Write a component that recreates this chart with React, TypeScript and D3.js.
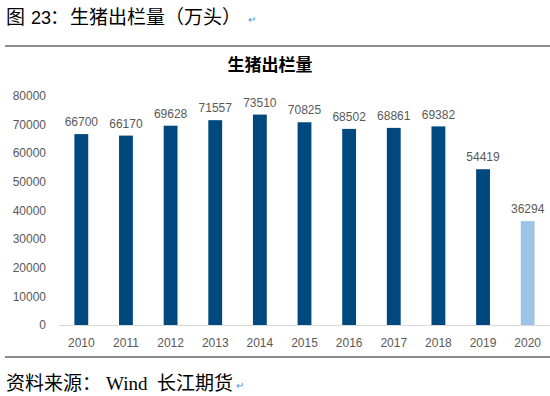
import React from "react";
import * as d3 from "d3";

const years = ["2010", "2011", "2012", "2013", "2014", "2015", "2016", "2017", "2018", "2019", "2020"];
const values = [66700, 66170, 69628, 71557, 73510, 70825, 68502, 68861, 69382, 54419, 36294];
const yTicks = [0, 10000, 20000, 30000, 40000, 50000, 60000, 70000, 80000];

const W = 550;
const H = 396;

export default function App() {
  const x = d3.scaleBand<string>().domain(years).range([59, 550]).paddingInner(0.69).paddingOuter(0.345);
  const y = d3.scaleLinear().domain([0, 80000]).range([325, 96]);
  const dark = "#00497E";
  const light = "#9DC3E6";
  const grey = "#595959";
  const numFont = "'Liberation Sans', Arial, sans-serif";
  const cjk = "'Noto Sans CJK SC', 'Liberation Sans', sans-serif";
  const serif = "'Liberation Serif', 'Times New Roman', serif";
  return (
    <svg width={W} height={H} style={{ position: "fixed", left: 0, top: 0, background: "#fff" }}>
      <rect x={0} y={0} width={W} height={H} fill="#fff" />
      {/* header */}
      <text y={24} fontSize={19} fill="#000" fontFamily={cjk}>
        <tspan x={6}>图</tspan>
        <tspan x={31} fontFamily={numFont} fontSize={18}>23</tspan>
        <tspan x={50}>：</tspan>
        <tspan x={70}>生猪出栏量（万头）</tspan>
      </text>
      <text x={248} y={23} fontSize={10} fill="#5b8fd6" fontFamily={numFont}>↵</text>
      <line x1={5} x2={550} y1={46} y2={46} stroke="#8c8c8c" strokeWidth={2} />
      {/* chart title */}
      <text x={270} y={71} textAnchor="middle" fontSize={17} fontWeight="bold" fill="#000" fontFamily={cjk}>
        生猪出栏量
      </text>
      {/* y axis labels */}
      {yTicks.map((t) => (
        <text key={t} x={46} y={y(t)} dy="0.35em" textAnchor="end" fontSize={12} fill={grey} fontFamily={numFont}>
          {t}
        </text>
      ))}
      {/* bars */}
      {years.map((yr, i) => (
        <rect
          key={yr}
          x={x(yr)}
          y={y(values[i])}
          width={x.bandwidth()}
          height={y(0) - y(values[i])}
          fill={i === years.length - 1 ? light : dark}
        />
      ))}
      {/* value labels */}
      {years.map((yr, i) => (
        <text
          key={"v" + yr}
          x={(x(yr) as number) + x.bandwidth() / 2}
          y={y(values[i]) - 12}
          dy="0.35em"
          textAnchor="middle"
          fontSize={12}
          fill={grey}
          fontFamily={numFont}
        >
          {values[i]}
        </text>
      ))}
      {/* x axis */}
      <line x1={59} x2={550} y1={325.5} y2={325.5} stroke="#d9d9d9" strokeWidth={1} />
      {years.map((yr) => (
        <text
          key={"x" + yr}
          x={(x(yr) as number) + x.bandwidth() / 2}
          y={343}
          dy="0.35em"
          textAnchor="middle"
          fontSize={12}
          fill={grey}
          fontFamily={numFont}
        >
          {yr}
        </text>
      ))}
      <line x1={5} x2={550} y1={357} y2={357} stroke="#8c8c8c" strokeWidth={2} />
      {/* footer */}
      <text y={390} fontSize={19} fill="#000" fontFamily={cjk}>
        <tspan x={6}>资料来源：</tspan>
        <tspan x={106} fontFamily={serif}>Wind</tspan>
        <tspan x={157}>长江期货</tspan>
      </text>
      <text x={236} y={389} fontSize={10} fill="#5b8fd6" fontFamily={numFont}>↵</text>
    </svg>
  );
}
